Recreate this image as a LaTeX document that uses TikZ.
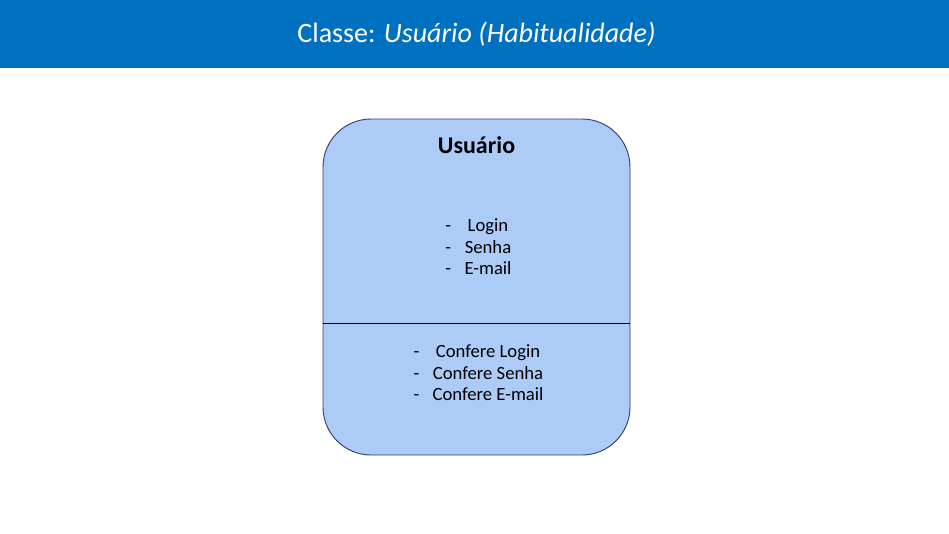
\documentclass[tikz,border=0pt]{standalone}
\usepackage{fontspec}
\setmainfont{Carlito}
\usepackage{xcolor}
\usepackage{tikz}
\usetikzlibrary{positioning,calc}
\definecolor{headerBlue}{RGB}{0,112,192}
\definecolor{classFill}{RGB}{173,203,247}
\definecolor{classDraw}{RGB}{50,64,115}
\tikzset{
  headerbar/.style={fill=headerBlue, draw=none},
  classbox/.style={
    rectangle, rounded corners=48*0.75pt, draw=classDraw, line width=0.7pt,
    fill=classFill, minimum width=307*0.75pt, minimum height=336*0.75pt, inner sep=0pt
  },
  memberlist/.style={font=\fontsize{14}{16.2}\selectfont, inner sep=0pt, text=black},
  divider/.style={draw=black, line width=0.6pt}
}

\begin{document}
\begin{tikzpicture}[x=0.75pt, y=-0.75pt]
  \useasboundingbox (0,0) rectangle (949,533);
  \fill[white] (0,0) rectangle (949,533);
  % header
  \path[headerbar] (0,0) rectangle (949,68);
  \node[text=white, font=\fontsize{21}{25}\selectfont, inner sep=0pt] (title) at (476.5,34)
    {Classe: \textit{Usuário (Habitualidade)}};
  % class
  \node[classbox] (usuario) at (476.5,287) {};
  \node[font=\fontsize{18}{21}\selectfont\bfseries, inner sep=0pt] (nome) at (476.5,145) {Usuário};
  \node[memberlist] (atributos) at (478.5,249)
    {\begin{tabular}{@{}c@{\hspace{10pt}}c@{}}
       - & Login\\
       - & Senha\\
       - & E-mail
     \end{tabular}};
  \draw[divider] (usuario.west |- 0,323) -- (usuario.east |- 0,323);
  \node[memberlist] (metodos) at (478.5,375)
    {\begin{tabular}{@{}c@{\hspace{10pt}}c@{}}
       - & Confere Login\\
       - & Confere Senha\\
       - & Confere E-mail
     \end{tabular}};
\end{tikzpicture}
\end{document}
